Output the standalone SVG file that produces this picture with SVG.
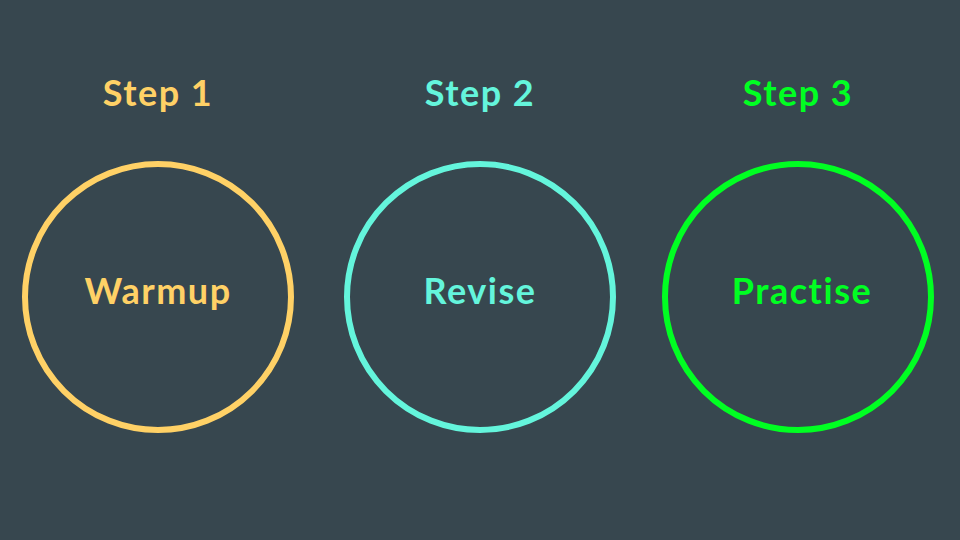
<svg xmlns="http://www.w3.org/2000/svg" width="960" height="540" viewBox="0 0 960 540">
<style>
text{font-family:"Lato","Open Sans",sans-serif;font-weight:bold;font-size:36px;letter-spacing:1.5px;text-anchor:middle;dominant-baseline:central}
circle{fill:none;stroke-width:6}
</style>
<rect width="960" height="540" fill="#37474f"/>
<g id="connectors"></g>
<g id="step1">
<text x="158" y="92" fill="#ffd166">Step 1</text>
<circle cx="158" cy="297" r="133" stroke="#ffd166"/>
<text x="158" y="290" fill="#ffd166">Warmup</text>
</g>
<g id="step2">
<text x="480" y="92" fill="#64f5dc">Step 2</text>
<circle cx="480" cy="297" r="133" stroke="#64f5dc"/>
<text x="480" y="290" fill="#64f5dc">Revise</text>
</g>
<g id="step3">
<text x="798" y="92" fill="#00ff22">Step 3</text>
<circle cx="798" cy="297" r="133" stroke="#00ff22"/>
<text x="802" y="290" fill="#00ff22">Practise</text>
</g>
</svg>
